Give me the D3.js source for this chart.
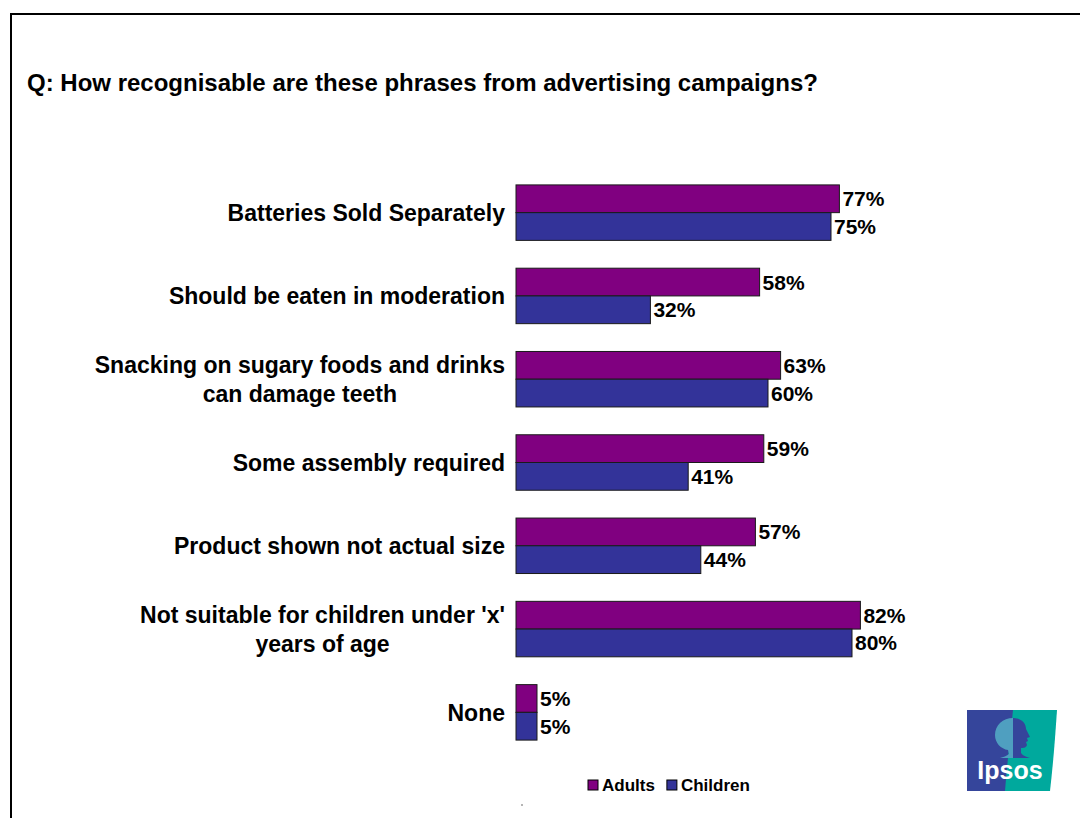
<!DOCTYPE html>
<html>
<head>
<meta charset="utf-8">
<script src="https://cdn.jsdelivr.net/npm/d3@7/dist/d3.min.js"></script>
<style>
  html, body { margin: 0; padding: 0; background: #ffffff; }
  svg { display: block; font-family: "Liberation Sans", Arial, sans-serif; }
</style>
</head>
<body>
<svg id="chart" width="1080" height="818"></svg>
<script>
// Phrases shown to respondents (line breaks as displayed)
const categories = [
  ["Batteries Sold Separately"],
  ["Should be eaten in moderation"],
  ["Snacking on sugary foods and drinks", "can damage teeth"],
  ["Some assembly required"],
  ["Product shown not actual size"],
  ["Not suitable for children under 'x'", "years of age"],
  ["None"]
];
const seriesNames = ["Adults", "Children"];
const adults   = [77, 58, 63, 59, 57, 82, 5];
const children = [75, 32, 60, 41, 44, 80, 5];
const seriesColors = ["#800080", "#333399"];

const titleText = "Q: How recognisable are these phrases from advertising campaigns?";

const svg = d3.select("#chart");
const keys = categories.map(c => c.join(" "));

// Frame lines
svg.append("line").attr("x1", 10).attr("x2", 1080).attr("y1", 14).attr("y2", 14)
  .attr("stroke", "#000").attr("stroke-width", 2);
svg.append("line").attr("x1", 11).attr("x2", 11).attr("y1", 13).attr("y2", 818)
  .attr("stroke", "#000").attr("stroke-width", 2);

// Title
svg.append("text")
  .attr("x", 27).attr("y", 91)
  .attr("font-size", 24).attr("font-weight", "bold")
  .text(titleText);

// Scales
const x = d3.scaleLinear().domain([0, 100]).range([516, 936]);
const y = d3.scaleBand().domain(keys).range([171, 754]).paddingInner(0.334).paddingOuter(0.167);
const ySub = d3.scaleBand().domain(seriesNames).range([0, y.bandwidth()]);

const rows = keys.map((k, i) => ({ key: k, lines: categories[i], values: [adults[i], children[i]] }));

const g = svg.append("g");
const grp = g.selectAll("g.cat").data(rows).join("g")
  .attr("class", "cat")
  .attr("transform", d => `translate(0,${y(d.key)})`);

grp.selectAll("rect").data(d => d.values.map((v, j) => ({ v, s: seriesNames[j], c: seriesColors[j] })))
  .join("rect")
  .attr("x", x(0))
  .attr("y", d => ySub(d.s))
  .attr("width", d => x(d.v) - x(0))
  .attr("height", ySub.bandwidth())
  .attr("fill", d => d.c)
  .attr("stroke", "#1a1a1a")
  .attr("stroke-width", 1);

grp.selectAll("text.val").data(d => d.values.map((v, j) => ({ v, s: seriesNames[j] })))
  .join("text")
  .attr("class", "val")
  .attr("x", d => x(d.v) + 3)
  .attr("y", d => ySub(d.s) + ySub.bandwidth() / 2)
  .attr("dy", "0.36em")
  .attr("font-size", 21).attr("font-weight", "bold")
  .text(d => d.v + "%");

// Category labels (multi-line labels centred as a block, right-aligned to the axis)
const labelSize = 23;
const lineH = 29;
grp.each(function(d) {
  const sel = d3.select(this);
  const cy = y.bandwidth() / 2;
  if (d.lines.length === 1) {
    sel.append("text")
      .attr("x", 505).attr("y", cy).attr("dy", "0.36em")
      .attr("text-anchor", "end")
      .attr("font-size", labelSize).attr("font-weight", "bold")
      .text(d.lines[0]);
  } else {
    const t = sel.append("text")
      .attr("font-size", labelSize).attr("font-weight", "bold")
      .attr("text-anchor", "middle");
    const spans = d.lines.map((ln, i) => t.append("tspan")
      .attr("y", cy + (i - (d.lines.length - 1) / 2) * lineH)
      .attr("dy", "0.36em")
      .text(ln));
    const w = d3.max(spans, s => s.node().getComputedTextLength());
    spans.forEach(s => s.attr("x", 505 - w / 2));
  }
});

// Legend
const legend = svg.append("g").attr("transform", "translate(588,785)");
let lx = 0;
seriesNames.forEach((name, i) => {
  legend.append("rect").attr("x", lx).attr("y", -5).attr("width", 10).attr("height", 10)
    .attr("fill", seriesColors[i]).attr("stroke", "#000").attr("stroke-width", 1);
  const t = legend.append("text").attr("x", lx + 14).attr("y", 0).attr("dy", "0.36em")
    .attr("font-size", 17).attr("font-weight", "bold").text(name);
  lx += 14 + t.node().getComputedTextLength() + 12;
});

// Stray marker dot beneath the legend
svg.append("circle").attr("cx", 522).attr("cy", 805).attr("r", 0.7).attr("fill", "#333");

// Ipsos logo
const logo = svg.append("g").attr("transform", "translate(967,710)");
logo.append("path")
  .attr("d", "M0,0 L90,0 C88,30 86,55 83,81 L0,81 Z")
  .attr("fill", "#00a99d");
logo.append("path")
  .attr("d", "M0,0 L46,0 C43,30 40,55 38,81 L0,81 Z")
  .attr("fill", "#35459b");
// face profile (right half)
logo.append("path")
  .attr("d", "M46,8 C54,8 59,13 59,19 L63,27 L60,28 L61,31 L59,32 L60,35 C59,38 56,38 54,38 L54,43 C56,46 60,47 63,48 L46,48 Z")
  .attr("fill", "#35459b");
// tree crown (left half)
logo.append("path")
  .attr("d", "M46,8 C36,8 28,15 28,25 C28,33 34,39 41,40 L42,44 C40,46 36,47 33,48 L46,48 Z")
  .attr("fill", "#4f9fc0");
logo.append("text")
  .attr("x", 43).attr("y", 69)
  .attr("text-anchor", "middle")
  .attr("font-size", 25).attr("font-weight", "bold")
  .attr("fill", "#ffffff")
  .text("Ipsos");
</script>
</body>
</html>
